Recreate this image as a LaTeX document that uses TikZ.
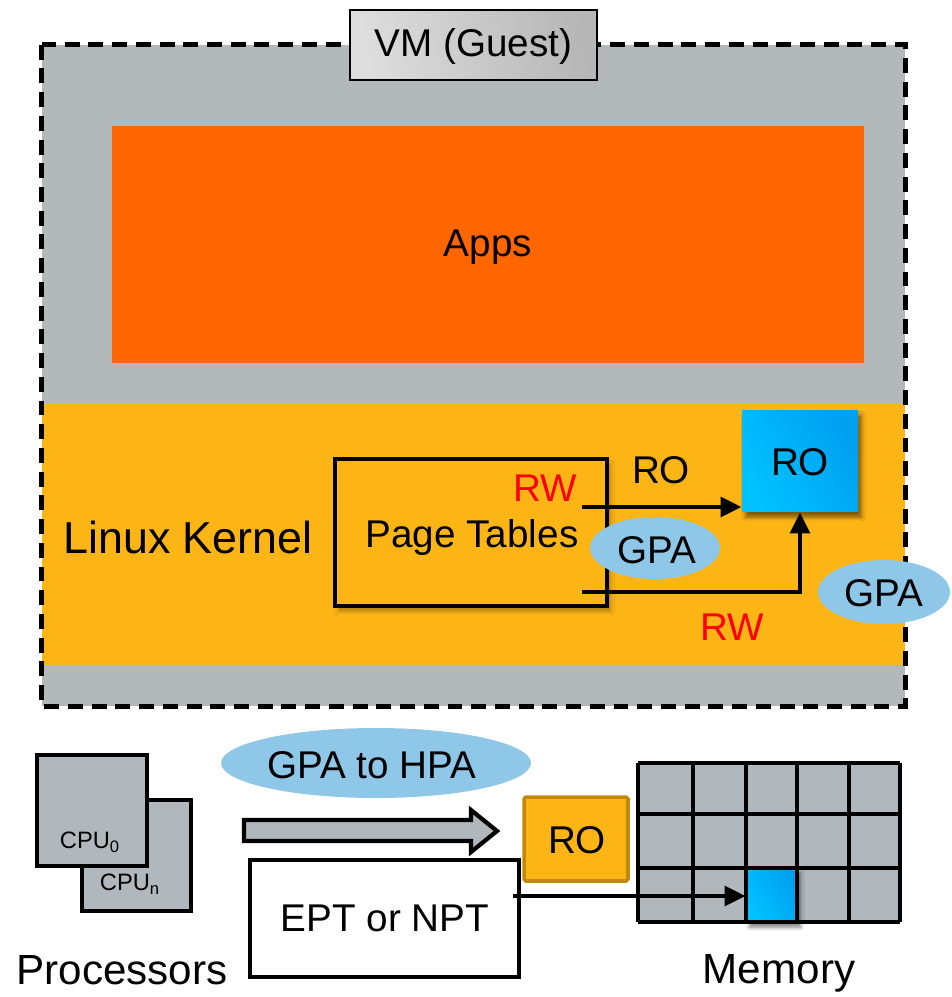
\documentclass[tikz,border=0pt]{standalone}
\usepackage{fontspec}
\setmainfont{Liberation Sans}
\usetikzlibrary{arrows.meta,shapes.geometric,shadows.blur,calc}
\definecolor{vmgray}{RGB}{179,184,185}
\definecolor{appsorange}{RGB}{255,102,0}
\definecolor{kyellow}{RGB}{253,181,21}
\definecolor{kyellowdark}{RGB}{192,138,16}
\definecolor{ellblue}{RGB}{142,199,232}
\definecolor{boxblueA}{RGB}{0,194,255}
\definecolor{boxblueB}{RGB}{0,160,240}
\definecolor{cpugray}{RGB}{177,184,189}
\definecolor{lblA}{RGB}{222,222,222}
\definecolor{lblB}{RGB}{182,182,182}
\definecolor{rwred}{RGB}{255,0,0}
\tikzset{
  txt/.style={font=\fontsize{22}{26}\selectfont, inner sep=0pt},
  bigtxt/.style={font=\fontsize{24}{28}\selectfont, inner sep=0pt},
  smalltxt/.style={font=\fontsize{13.5}{16}\selectfont, inner sep=0pt},
  thickbox/.style={draw=black, line width=2.4pt},
  bluebox/.style={rectangle, left color=boxblueA, right color=boxblueB, shading angle=120,
     blur shadow={shadow xshift=2pt, shadow yshift=-3pt, shadow blur steps=6, shadow opacity=50}},
  ell/.style={ellipse, fill=ellblue, inner sep=0pt},
  conn/.style={line width=2.8pt, -{Triangle[length=12pt,width=11pt]}},
}
\begin{document}
\begin{tikzpicture}[x=0.02cm,y=-0.02cm]
\useasboundingbox (0,0) rectangle (951,997);

% VM area
\node[rectangle, fill=vmgray, minimum width=17.26cm, minimum height=13.22cm, inner sep=0pt] (vm) at (473.5,375.5) {};
\node[rectangle, fill=appsorange, minimum width=15.04cm, minimum height=4.74cm, inner sep=0pt] (apps) at (488,244.5) {};
\node[txt] (appslbl) at (488,247) {Apps};
\node[rectangle, fill=kyellow, minimum width=17.26cm, minimum height=5.22cm, inner sep=0pt] (kernel) at (473.5,534.5) {};
\draw[line width=3pt, dash pattern=on 8.5pt off 5pt] (vm.north west) rectangle (vm.south east);
\node[rectangle, draw=black, line width=1pt, left color=lblA, right color=lblB, shading angle=100,
      minimum width=4.94cm, minimum height=1.4cm, inner sep=0pt] (vmlbl) at (473.5,45) {};
\node[txt] (vmtxt) at (473.5,46) {VM (Guest)};

\node[font=\fontsize{25.5}{30}\selectfont, inner sep=0pt] (lk) at (188,537) {Linux Kernel};

% page tables
\node[rectangle, thickbox, fill=kyellow, minimum width=5.44cm, minimum height=2.94cm, inner sep=0pt,
      blur shadow={shadow xshift=2pt, shadow yshift=-3pt, shadow blur steps=6, shadow opacity=30}] (pt) at (471,532.5) {};
\node[txt] (ptlbl) at (472,538) {Page Tables};

\node[bluebox, minimum width=2.32cm, minimum height=2.04cm, inner sep=0pt] (ro1) at (800,461) {};
\node[txt] (ro1lbl) at (800,462) {RO};

\node[ell, minimum width=2.6cm, minimum height=1.24cm] (gpa1) at (655,548) {};
\node[txt] (gpa1lbl) at (657,550) {GPA};
\node[ell, minimum width=2.64cm, minimum height=1.28cm] (gpa2) at (884,592) {};
\node[txt] (gpa2lbl) at (884,593) {GPA};

\node[txt, text=rwred] (rw1) at (545,488) {RW};
\node[txt] (rolbl) at (661,470) {RO};
\node[txt, text=rwred] (rw2) at (732,627) {RW};

\coordinate (a1s) at (582,507);
\coordinate (a2s) at (582,592);
\draw[conn] (a1s) -- (ro1.west |- a1s);
\draw[conn] (a2s) -| (ro1.south);

% processors
\node[rectangle, thickbox, fill=cpugray, minimum width=2.18cm, minimum height=2.22cm, inner sep=0pt] (cpun) at (136.5,855.5) {};
\node[rectangle, thickbox, fill=cpugray, minimum width=2.2cm, minimum height=2.22cm, inner sep=0pt] (cpu0) at (92,810.5) {};
\node[smalltxt] (cpu0lbl) at (90,842) {CPU\textsubscript{0}};
\node[smalltxt] (cpunlbl) at (130,884) {CPU\textsubscript{n}};
\node[bigtxt] (proc) at (122,970) {Processors};

% GPA to HPA
\node[ell, minimum width=6.2cm, minimum height=1.4cm] (g2h) at (376,763) {};
\node[txt] (g2hlbl) at (372,765) {GPA to HPA};

\draw[fill=cpugray, line width=2.4pt, line join=miter]
  (244,820) -- (471,820) -- (471,810) -- (497,831) -- (471,852) -- (471,841) -- (244,841) -- cycle;

\node[rectangle, thickbox, fill=white, minimum width=5.38cm, minimum height=2.34cm, inner sep=0pt] (ept) at (384.5,918.5) {};
\node[txt] (eptlbl) at (385,918) {EPT or NPT};

\node[rectangle, fill=kyellow, draw=kyellowdark, line width=2pt, rounded corners=1pt,
      minimum width=2.08cm, minimum height=1.68cm, inner sep=0pt] (ro2) at (576,839) {};
\node[txt] (ro2lbl) at (577,840) {RO};

% memory grid
\fill[cpugray] (638,763) rectangle (900,922);
\node[bluebox, minimum width=1.02cm, minimum height=1.08cm, inner sep=0pt] (cell) at (771.5,895) {};
\foreach \xx in {638,693,746,797,849,900} {\draw[line width=2.4pt] (\xx,763) -- (\xx,922);}
\foreach \yy in {763,814,868,922} {\draw[line width=2.4pt] (638,\yy) -- (900,\yy);}
\coordinate (a3s) at (513,896);
\draw[conn] (a3s) -- (cell.west |- a3s);
\node[bigtxt] (mem) at (779,973) {Memory};
\end{tikzpicture}
\end{document}
